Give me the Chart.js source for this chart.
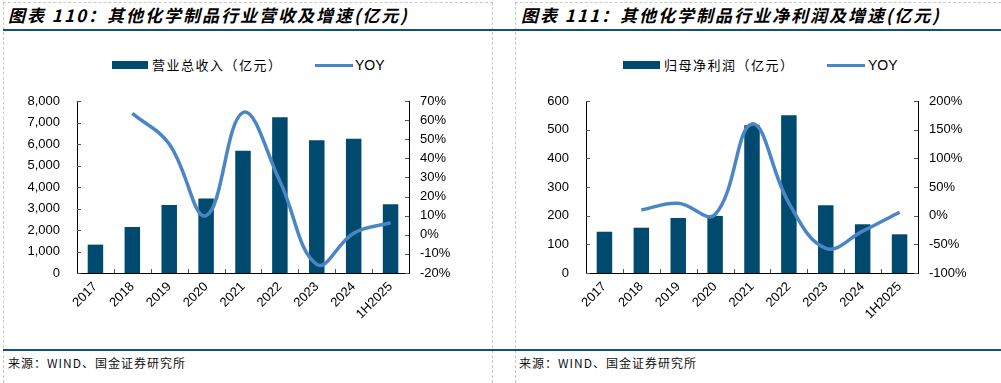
<!DOCTYPE html>
<html><head><meta charset="utf-8">
<script src="https://cdn.jsdelivr.net/npm/chart.js@4"></script>
<style>
body{margin:0;width:1001px;height:383px;position:relative;background:#fff;overflow:hidden;font-family:"Noto Sans CJK SC",sans-serif;}
.abs{position:absolute}
.title{font-size:17px;font-weight:bold;font-style:italic;letter-spacing:2px;color:#000;white-space:nowrap;line-height:20px}
.leg{font-size:13px;color:#000;white-space:nowrap;line-height:16px;letter-spacing:1.5px}
.yoy{font-family:"Liberation Sans";font-size:14px;letter-spacing:0}
.src{font-size:12px;color:#111;white-space:nowrap;line-height:14px;letter-spacing:1px}
</style></head><body>
<!-- dashed panel borders -->
<div class="abs" style="left:3px;top:2px;width:488px;height:390px;border-left:1px dashed #c8c8c8;border-top:1px dashed #c8c8c8;border-right:1px dashed #c8c8c8"></div>
<div class="abs" style="left:515px;top:2px;width:490px;height:390px;border-left:1px dashed #c8c8c8;border-top:1px dashed #c8c8c8"></div>
<!-- blue rules -->
<div class="abs" style="left:3px;top:29px;width:998px;height:2px;background:#0f5177"></div>
<div class="abs" style="left:3px;top:349px;width:998px;height:2px;background:#0f5177"></div>
<!-- titles -->
<div class="abs title" style="left:8px;top:5px">图表 110：其他化学制品行业营收及增速(亿元)</div>
<div class="abs title" style="left:521px;top:5px">图表 111：其他化学制品行业净利润及增速(亿元)</div>
<!-- legends -->
<div class="abs" style="left:112px;top:61px;width:36px;height:8px;background:#004a70"></div>
<div class="abs leg" style="left:152px;top:57px">营业总收入（亿元）</div>
<div class="abs" style="left:315px;top:64px;width:38px;height:3px;background:#4a86c6"></div>
<div class="abs leg yoy" style="left:355px;top:57px">YOY</div>
<div class="abs" style="left:623px;top:61px;width:37px;height:8px;background:#004a70"></div>
<div class="abs leg" style="left:664px;top:57px">归母净利润（亿元）</div>
<div class="abs" style="left:827px;top:64px;width:38px;height:3px;background:#4a86c6"></div>
<div class="abs leg yoy" style="left:868px;top:57px">YOY</div>
<!-- sources -->
<div class="abs src" style="left:8px;top:356px">来源：WIND、国金证券研究所</div>
<div class="abs src" style="left:519px;top:356px">来源：WIND、国金证券研究所</div>
<canvas id="c1" class="abs" style="left:0;top:40px" width="490" height="300"></canvas>
<canvas id="c2" class="abs" style="left:500px;top:40px" width="501" height="300"></canvas>
<script>
const categories = ['2017','2018','2019','2020','2021','2022','2023','2024','1H2025'];
const revenue = [1320, 2140, 3160, 3470, 5690, 7250, 6180, 6240, 3200];
const revenueYoy = [null, 63.5, 47.5, 10, 64, 28, -15.5, 0.8, 6.3];
const profit = [144, 158, 192, 199, 515, 550, 236, 170, 135];
const profitYoy = [null, 10, 21.5, 2, 160, 22, -57, -27, 6];
const revTicks = [0,1000,2000,3000,4000,5000,6000,7000,8000];
const revYoyTicks = [-20,-10,0,10,20,30,40,50,60,70];
const profitTicks = [0,100,200,300,400,500,600];
const profitYoyTicks = [-100,-50,0,50,100,150,200];

const BAR = '#004a70', LINE = '#4a86c6';
const tickFont = {family:'Liberation Sans', size:13};

const innerTicks = {
  id:'innerTicks',
  afterDraw(c){
    const {ctx, chartArea:a, scales} = c;
    ctx.save();
    ctx.strokeStyle = '#555'; ctx.lineWidth = 1;
    const y = scales.y, y1 = scales.y1, x = scales.x;
    y.ticks.forEach((t,i)=>{const p=Math.round(y.getPixelForTick(i))+0.5;ctx.beginPath();ctx.moveTo(a.left,p);ctx.lineTo(a.left+4,p);ctx.stroke();});
    y1.ticks.forEach((t,i)=>{const p=Math.round(y1.getPixelForTick(i))+0.5;ctx.beginPath();ctx.moveTo(a.right-4,p);ctx.lineTo(a.right,p);ctx.stroke();});
    for(let i=1;i<x.ticks.length;i++){
      const p=Math.round((x.getPixelForTick(i-1)+x.getPixelForTick(i))/2)+0.5;
      ctx.beginPath();ctx.moveTo(p,a.bottom);ctx.lineTo(p,a.bottom-4);ctx.stroke();
    }
    ctx.restore();
  }
};

function makeChart(id, bars, barLabel, yoy, lt, rt, lw, rw, fmtL){
  return new Chart(document.getElementById(id), {
    data:{
      labels:categories,
      datasets:[
        {type:'line', label:'YOY', data:yoy, yAxisID:'y1', borderColor:LINE, borderWidth:3.5, pointRadius:0, tension:0.4, fill:false, order:0, clip:false},
        {type:'bar', label:barLabel, data:bars, yAxisID:'y', backgroundColor:BAR, borderWidth:0, barPercentage:0.42, categoryPercentage:1, order:1}
      ]
    },
    options:{
      responsive:false, animation:false, devicePixelRatio:1,
      layout:{padding:{top:61,left:0,right:0,bottom:0}},
      plugins:{legend:{display:false}, tooltip:{enabled:false}},
      scales:{
        x:{grid:{display:false, drawTicks:false}, border:{display:true,color:'#000',width:1},
           ticks:{minRotation:45,maxRotation:45,autoSkip:false,font:tickFont,color:'#000',padding:6},
           afterFit(s){s.height=67;}},
        y:{position:'left', min:lt[0], max:lt[lt.length-1],
           afterBuildTicks(s){s.ticks=lt.map(v=>({value:v}));},
           ticks:{font:tickFont,color:'#000',padding:17,callback:fmtL},
           grid:{display:false, drawTicks:false}, border:{display:true,color:'#000',width:1},
           afterFit(s){s.width=lw;}},
        y1:{position:'right', min:rt[0], max:rt[rt.length-1],
           afterBuildTicks(s){s.ticks=rt.map(v=>({value:v}));},
           ticks:{font:tickFont,color:'#000',padding:11,callback:v=>v+'%'},
           grid:{display:false, drawTicks:false}, border:{display:true,color:'#000',width:1},
           afterFit(s){s.width=rw;}}
      }
    },
    plugins:[innerTicks]
  });
}
makeChart('c1', revenue, '营业总收入（亿元）', revenueYoy, revTicks, revYoyTicks, 77, 81, v=>v.toLocaleString('en-US'));
makeChart('c2', profit, '归母净利润（亿元）', profitYoy, profitTicks, profitYoyTicks, 86, 83, v=>String(v));
</script>
</body></html>
